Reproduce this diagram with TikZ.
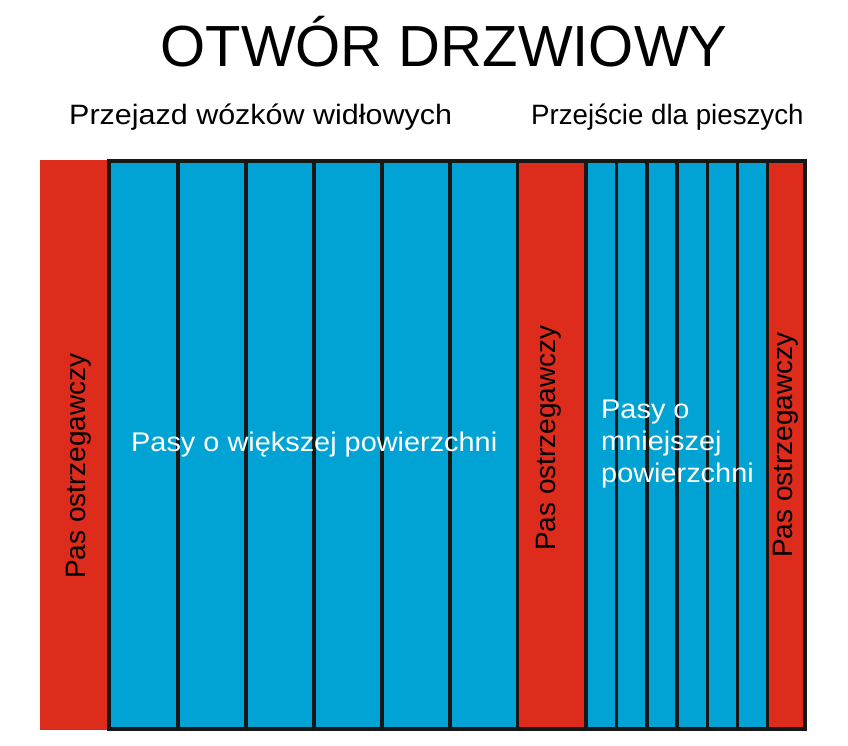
\documentclass[tikz,border=0pt]{standalone}
\usepackage{fontspec}
\setmainfont{Liberation Sans}
\definecolor{warnred}{RGB}{221,43,28}
\definecolor{padblue}{RGB}{0,163,212}
\definecolor{linedark}{RGB}{22,24,24}
\tikzset{
  sep/.style={draw=linedark,line width=3.5pt},
  warnlabel/.style={rotate=90,anchor=base,inner sep=0pt,text=black,font=\fontsize{28}{30}\selectfont},
  padlabel/.style={inner sep=0pt,text=white,xscale=1.07,font=\fontsize{27}{32}\selectfont},
  sublabel/.style={anchor=base west,inner sep=0pt,font=\fontsize{28}{30}\selectfont},
}
\begin{document}
\begin{tikzpicture}[x=1pt,y=-1pt]
\useasboundingbox (0,0) rectangle (848,745);
% strips
\fill[warnred] (40,160) rectangle (109,730);
\fill[padblue] (109,160) rectangle (518,729);
\fill[warnred] (518,160) rectangle (586,729);
\fill[padblue] (586,160) rectangle (768,729);
\fill[warnred] (768,160) rectangle (805,729);
\foreach \xx in {178,246,314,382,450,517.5,586,616.5,647,677,707.5,737.5,767.5}
  \draw[sep] (\xx,161) -- (\xx,729);
\draw[sep] (109,161) rectangle (805,729);
% texts
\node[anchor=base,inner sep=0pt,font=\fontsize{58}{62}\selectfont] (title) at (444,66) {OTWÓR DRZWIOWY};
\node[sublabel,xscale=1.089] (fork) at (69,124) {Przejazd wózków widłowych};
\node[sublabel,xscale=0.989] (walk) at (531,124) {Przejście dla pieszych};
\node[padlabel,anchor=base west] (big) at (131,451) {Pasy o większej powierzchni};
\node[padlabel,anchor=base west,align=left] (small) at (601,482) {Pasy o\\mniejszej\\powierzchni};
\node[warnlabel] (w1) at (85,466) {Pas ostrzegawczy};
\node[warnlabel] (w2) at (555,438) {Pas ostrzegawczy};
\node[warnlabel] (w3) at (792,445) {Pas ostrzegawczy};
\end{tikzpicture}
\end{document}
